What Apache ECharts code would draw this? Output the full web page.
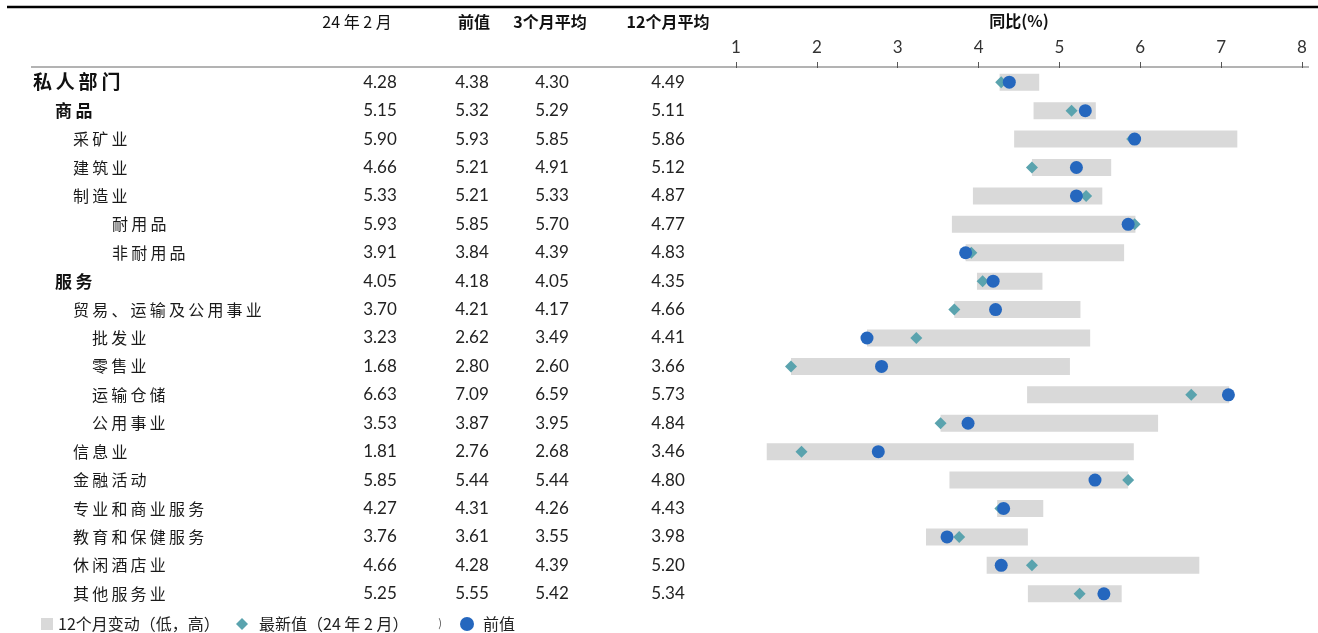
<!DOCTYPE html>
<html>
<head>
<meta charset="utf-8">
<script src="https://cdn.jsdelivr.net/npm/echarts@6/dist/echarts.min.js"></script>
<style>
html,body{margin:0;padding:0;background:#fff;}
#main{width:1318px;height:633px;}
</style>
</head>
<body>
<div id="main"></div>
<script>
// ---------- data ----------
const categories = ['私人部门','商品','采矿业','建筑业','制造业','耐用品','非耐用品','服务','贸易、运输及公用事业','批发业','零售业','运输仓储','公用事业','信息业','金融活动','专业和商业服务','教育和保健服务','休闲酒店业','其他服务业'];
const levels     = [0,1,2,2,2,4,4,1,2,3,3,3,3,2,2,2,2,2,2];
const latest     = [4.28,5.15,5.90,4.66,5.33,5.93,3.91,4.05,3.70,3.23,1.68,6.63,3.53,1.81,5.85,4.27,3.76,4.66,5.25];
const previous   = [4.38,5.32,5.93,5.21,5.21,5.85,3.84,4.18,4.21,2.62,2.80,7.09,3.87,2.76,5.44,4.31,3.61,4.28,5.55];
const avg3m      = [4.30,5.29,5.85,4.91,5.33,5.70,4.39,4.05,4.17,3.49,2.60,6.59,3.95,2.68,5.44,4.26,3.55,4.39,5.42];
const avg12m     = [4.49,5.11,5.86,5.12,4.87,4.77,4.83,4.35,4.66,4.41,3.66,5.73,4.84,3.46,4.80,4.43,3.98,5.20,5.34];
const low12m     = [4.26,4.68,4.44,4.66,3.93,3.67,3.84,3.98,3.70,2.62,1.68,4.60,3.53,1.38,3.64,4.23,3.35,4.10,4.61];
const high12m    = [4.75,5.45,7.20,5.64,5.53,5.94,5.80,4.79,5.26,5.38,5.13,7.10,6.22,5.92,5.85,4.80,4.61,6.73,5.77];
const columnHeaders = ['24 年 2 月','前值','3个月平均','12个月平均'];
const axisTitle = '同比(%)';
const xTicks = [1,2,3,4,5,6,7,8];
const legendNames = ['12个月变动（低，高）','最新值（24 年 2 月）','前值'];

// ---------- chart ----------
const CJK = '"Noto Sans CJK SC", sans-serif';
const NUM = 'Lato, "Noto Sans", sans-serif';
const GL = 736, GR = 1302, GT = 68, GH = 540;
const spaced = s => s.split('').join('\u2009');

const valueCols = [latest, previous, avg3m, avg12m];
const colCenters = [380, 472, 552, 668];
const headerCenters = [357, 474, 550, 668];

const yAxes = [{
  type:'category', data:categories, inverse:true, gridIndex:0, position:'left', offset:0,
  axisLine:{show:false}, axisTick:{show:false}, splitLine:{show:false},
  axisLabel:{
    align:'left', margin: GL - 33, interval:0,
    formatter:(v,i)=>'{l'+levels[i]+'|'+spaced(v)+'}',
    rich:{
      l0:{fontFamily:CJK,fontSize:19,fontWeight:'bold',color:'#111',padding:[0,0,0,0]},
      l1:{fontFamily:CJK,fontSize:17,fontWeight:'bold',color:'#111',padding:[0,0,0,22]},
      l2:{fontFamily:CJK,fontSize:16,color:'#1a1a1a',padding:[0,0,0,40]},
      l3:{fontFamily:CJK,fontSize:16,color:'#1a1a1a',padding:[0,0,0,59]},
      l4:{fontFamily:CJK,fontSize:16,color:'#1a1a1a',padding:[0,0,0,79]}
    }
  }
}];
valueCols.forEach((arr,k)=>{
  yAxes.push({
    type:'category', data:categories, inverse:true, gridIndex:0, position:'left', offset:0,
    axisLine:{show:false}, axisTick:{show:false}, splitLine:{show:false},
    axisLabel:{
      align:'center', margin: GL - colCenters[k], interval:0,
      fontFamily:NUM, fontSize:17, color:'#222',
      formatter:(v,i)=>arr[i].toFixed(2)
    }
  });
});

const graphics = [
  {type:'line', shape:{x1:7,y1:7,x2:1318,y2:7}, style:{stroke:'#000',lineWidth:2.5}, silent:true},
  {type:'line', shape:{x1:31,y1:67,x2:1309,y2:67}, style:{stroke:'#9a9a9a',lineWidth:1.5}, silent:true},
  {type:'text', x:1019, y:21, style:{text:axisTitle, align:'center', verticalAlign:'middle', font:'bold 16px '+CJK, fill:'#111'}},
  {type:'text', x:440, y:623, style:{text:')', align:'center', verticalAlign:'middle', font:'11px '+CJK, fill:'#555'}}
];
columnHeaders.forEach((h,k)=>{
  graphics.push({type:'text', x:headerCenters[k], y:22, style:{text:h, align:'center', verticalAlign:'middle',
    font:(k===0?'normal ':'bold ')+'16px '+CJK, fill:'#111'}});
});

const option = {
  animation:false,
  backgroundColor:'#fff',
  grid:{left:GL, right:1318-GR, top:GT, height:GH, containLabel:false, outerBoundsMode:'none'},
  xAxis:{
    type:'value', position:'top', min:xTicks[0], max:xTicks[xTicks.length-1], interval:1,
    axisLine:{show:false},
    axisTick:{show:true, length:6, lineStyle:{color:'#555',width:1}},
    splitLine:{show:false},
    axisLabel:{margin:12, fontFamily:NUM, fontSize:17, color:'#333'}
  },
  yAxis:yAxes,
  legend:[
    {left:36, top:611, itemWidth:12, itemHeight:12, itemGap:0, selectedMode:false,
     textStyle:{fontFamily:CJK,fontSize:16,color:'#222'},
     data:[{name:legendNames[0], icon:'rect'}]},
    {left:231, top:611, itemWidth:12, itemHeight:12, selectedMode:false,
     textStyle:{fontFamily:CJK,fontSize:16,color:'#222',padding:[0,0,0,6]},
     data:[{name:legendNames[1], icon:'diamond'}]},
    {left:455, top:611, itemWidth:14, itemHeight:14, selectedMode:false,
     textStyle:{fontFamily:CJK,fontSize:16,color:'#222',padding:[0,0,0,4]},
     data:[{name:legendNames[2], icon:'circle'}]}
  ],
  graphic:graphics,
  series:[
    {
      name:legendNames[0], type:'custom', xAxisIndex:0, yAxisIndex:0,
      itemStyle:{color:'#d9d9d9'},
      encode:{x:[0,1], y:2},
      data:categories.map((c,i)=>[low12m[i], high12m[i], i]),
      renderItem:(params, api)=>{
        const a = api.coord([api.value(0), api.value(2)]);
        const b = api.coord([api.value(1), api.value(2)]);
        const h = 17;
        return {type:'rect', shape:{x:a[0], y:a[1]-h/2, width:b[0]-a[0], height:h}, style:{fill:'#d9d9d9'}};
      },
      z:1
    },
    {
      name:legendNames[1], type:'scatter', xAxisIndex:0, yAxisIndex:0,
      symbol:'diamond', symbolSize:[12,12],
      itemStyle:{color:'#5aa3ae', opacity:1},
      data:latest.map((v,i)=>[v,i]), z:2
    },
    {
      name:legendNames[2], type:'scatter', xAxisIndex:0, yAxisIndex:0,
      symbol:'circle', symbolSize:13,
      itemStyle:{color:'#2567be', opacity:1},
      data:previous.map((v,i)=>[v,i]), z:3
    }
  ]
};
const chart = echarts.init(document.getElementById('main'), null, {renderer:'canvas'});
chart.setOption(option);
</script>
</body>
</html>
